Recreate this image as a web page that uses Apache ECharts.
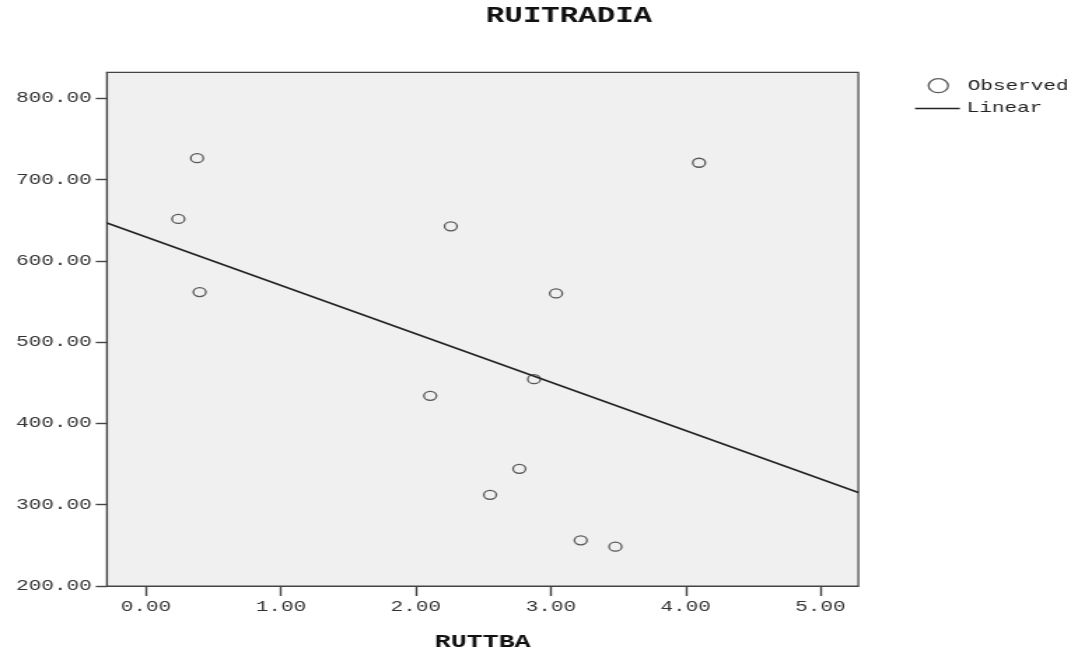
<!DOCTYPE html>
<html>
<head>
<meta charset="utf-8">
<script src="https://cdn.jsdelivr.net/npm/echarts@6/dist/echarts.min.js"></script>
<style>
  html, body { margin: 0; padding: 0; background: #fff; overflow: hidden; }
  #wrap { width: 1078px; height: 657px; overflow: hidden; }
  #chart { width: 770px; height: 657px; transform: scaleX(1.4); transform-origin: 0 0; }
</style>
</head>
<body>
<div id="wrap"><div id="chart"></div></div>
<script>
// Observed points (RUTTBA, RUITRADIA)
const observedX = [0.378, 0.239, 0.397, 2.259, 2.106, 3.039, 2.876, 2.767, 2.550, 3.222, 3.479, 4.099];
const observedY = [726.4, 651.6, 561.6, 642.5, 434.0, 560.0, 454.5, 344.1, 312.2, 256.2, 248.4, 720.7];
// Linear fit line end points, read at the plot edges
const linearX = [-0.29, 5.28];
const linearY = [646.7, 315.0];
// Axis ticks
const xTicks = [0, 1, 2, 3, 4, 5];
const yTicks = [200, 300, 400, 500, 600, 700, 800];

const FONT = '"Liberation Mono", "DejaVu Sans Mono", monospace';

const chart = echarts.init(document.getElementById('chart'), null, { renderer: 'canvas' });

const scatterData = observedX.map((x, i) => [x, observedY[i]]);
const lineData = linearX.map((x, i) => [x, linearY[i]]);

chart.setOption({
  animation: false,
  backgroundColor: '#ffffff',
  title: {
    text: 'RUITRADIA',
    left: 347,
    top: 5,
    padding: 0,
    textStyle: { fontFamily: FONT, fontWeight: 'bold', fontSize: 22, color: '#111' }
  },
  legend: [
    {
      data: [{ name: 'Observed', icon: 'circle' }],
      left: 662.6, top: 78,
      padding: 0,
      itemWidth: 32, itemHeight: 14,
      symbolKeepAspect: true,
      itemStyle: { color: 'transparent', borderColor: '#333', borderWidth: 1.3 },
      textStyle: { fontFamily: FONT, fontSize: 15, color: '#222' }
    },
    {
      data: [{ name: 'Linear', icon: 'path://M0,0H32V1.6H0Z' }],
      left: 653.6, top: 101,
      padding: 0,
      itemWidth: 32, itemHeight: 14,
      symbolKeepAspect: true,
      itemStyle: { color: '#222', borderWidth: 0 },
      textStyle: { fontFamily: FONT, fontSize: 15, color: '#222' }
    }
  ],
  grid: {
    left: 76.4, right: 156.9, top: 72.3, bottom: 69.5,
    show: true, backgroundColor: '#f0f0f0', borderColor: '#444', borderWidth: 1.2,
    containLabel: false
  },
  xAxis: {
    type: 'value',
    min: -0.29, max: 5.28,
    name: 'RUTTBA',
    nameLocation: 'middle',
    nameGap: 47,
    nameTextStyle: { fontFamily: FONT, fontWeight: 'bold', fontSize: 19, color: '#111' },
    axisLine: { show: true, onZero: false, lineStyle: { color: '#444', width: 1.2 } },
    axisTick: { show: true, customValues: xTicks, length: 10, lineStyle: { color: '#444', width: 1.4 } },
    axisLabel: {
      customValues: xTicks, margin: 14,
      formatter: v => v.toFixed(2),
      fontFamily: FONT, fontSize: 15, color: '#333'
    },
    splitLine: { show: false }
  },
  yAxis: {
    type: 'value',
    min: 200, max: 832,
    axisLine: { show: true, onZero: false, lineStyle: { color: '#444', width: 1.2 } },
    axisTick: { show: true, customValues: yTicks, length: 8, lineStyle: { color: '#444', width: 1.4 } },
    axisLabel: {
      customValues: yTicks, margin: 11,
      formatter: v => v.toFixed(2),
      fontFamily: FONT, fontSize: 15, color: '#333'
    },
    splitLine: { show: false }
  },
  series: [
    {
      name: 'Observed',
      type: 'scatter',
      data: scatterData,
      symbol: 'circle',
      symbolSize: 9,
      itemStyle: { color: 'transparent', borderColor: '#333', borderWidth: 1.3 },
      z: 3
    },
    {
      name: 'Linear',
      type: 'line',
      data: lineData,
      showSymbol: false,
      symbol: 'none',
      color: '#222',
      lineStyle: { color: '#222', width: 1.6 },
      itemStyle: { color: '#222' },
      z: 2
    }
  ]
});
</script>
</body>
</html>
